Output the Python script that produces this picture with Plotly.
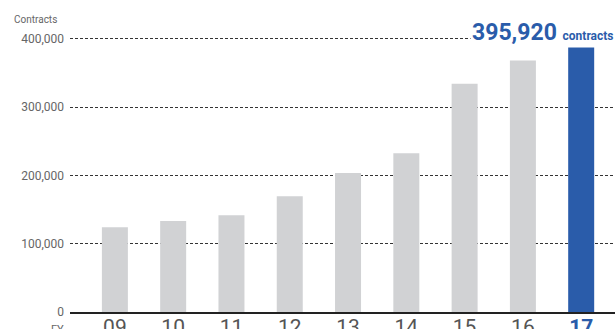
import plotly.graph_objects as go

fiscal_years = ["09", "10", "11", "12", "13", "14", "15", "16", "17"]
contracts = [124000, 133000, 141500, 169500, 203500, 232500, 334000, 368000, 395920]
y_ticks = [0, 100000, 200000, 300000, 400000]

GRAY = "#d1d2d4"
BLUE = "#2a5caa"
W, H = 615, 329
L, R, T, B = 70, 0, 25, 17

bar_colors = [GRAY] * (len(fiscal_years) - 1) + [BLUE]
tick_text = [f"<span style='color:#555555'>{fy}</span>" for fy in fiscal_years[:-1]]
tick_text.append(f"<span style='color:{BLUE}'><b>{fiscal_years[-1]}</b></span>")

fig = go.Figure()
fig.add_trace(go.Bar(x=fiscal_years, y=contracts, marker_color=bar_colors,
                     marker_line_width=0, hoverinfo="skip"))

plot_w = W - L - R
fig.update_layout(
    width=W, height=H,
    margin=dict(l=L, r=R, t=T, b=B),
    paper_bgcolor="white", plot_bgcolor="white",
    showlegend=False,
    bargap=0.554,
    font=dict(family="Roboto", color="#555555"),
    xaxis=dict(
        range=[-0.77, 8.58], automargin=False,
        tickmode="array", tickvals=fiscal_years, ticktext=tick_text,
        tickfont=dict(size=21, family="Roboto"),
        ticklabelstandoff=-5,
        showline=True, linecolor="#222222", linewidth=1.5,
        ticks="", showgrid=False, fixedrange=True,
    ),
    yaxis=dict(
        range=[0, 420000], automargin=False,
        tickvals=y_ticks, tickformat=",",
        tickfont=dict(size=12, color="#666666"),
        showgrid=True, gridcolor="#333333", gridwidth=1, griddash="3px,2px",
        zeroline=False, showline=False, ticks="",
        ticklabelstandoff=5,
    ),
    annotations=[
        dict(text="Contracts", xref="paper", yref="paper",
             x=(12 - L) / plot_w, y=1, xanchor="left", yanchor="bottom",
             yshift=-2, showarrow=False,
             font=dict(size=10, color="#666666")),
        dict(text="FY", xref="paper", yref="paper",
             x=(66 - L) / plot_w, y=0, xanchor="right", yanchor="top",
             yshift=-9, showarrow=False,
             font=dict(size=11, color="#666666")),
        dict(text=f"<b>{contracts[-1]:,}</b> <b><span style='font-size:12px'>contracts</span></b>",
             xref="paper", yref="y", x=1, y=400000,
             xanchor="right", yanchor="middle", yshift=6, showarrow=False,
             bgcolor="white",
             font=dict(size=23, color=BLUE, family="Roboto")),
    ],
)

fig.write_html("out.html", config={"displayModeBar": False},
               post_script="document.body.style.margin='0';document.body.style.overflow='hidden';")
